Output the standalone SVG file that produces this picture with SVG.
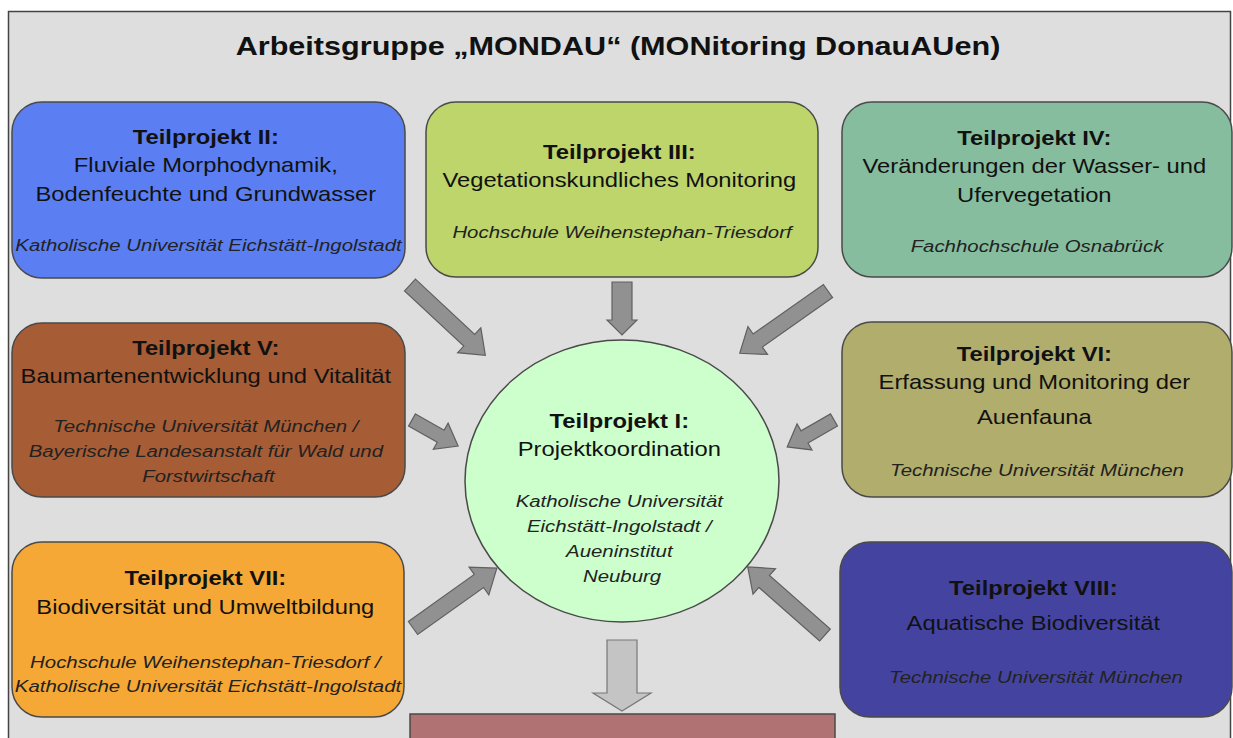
<svg xmlns="http://www.w3.org/2000/svg" width="1233" height="738" viewBox="0 0 1233 738">
<style>
text{font-family:"Liberation Sans",Arial,sans-serif;fill:#111;text-anchor:middle}
.t{font-size:25.5px;font-weight:bold}
.b{font-size:19.8px;font-weight:bold}
.r{font-size:19.8px}
.i{font-size:17px;font-style:italic;fill:#222}
.box{stroke:#4a4a4a;stroke-width:1.5}
.arr{fill:#919191;stroke:#606060;stroke-width:1.2}
</style>
<rect x="0" y="0" width="1233" height="738" fill="#ffffff"/>
<rect id="frame" x="8.5" y="11.5" width="1222" height="740" fill="#dedede" stroke="#444" stroke-width="1.5"/>
<g id="title">
<text class="t" transform="translate(618,0) scale(1.2,1)"><tspan x="0" y="55">Arbeitsgruppe „MONDAU“ (MONitoring DonauAUen)</tspan></text>
</g>
<g id="connectors">
<polygon class="arr" transform="translate(410,285) rotate(43)" points="0,-8 81,-8 81,-17 103,0 81,17 81,8 0,8"/>
<polygon class="arr" transform="translate(622,282) rotate(90)" points="0,-10 38,-10 38,-15 53,0 38,15 38,10 0,10"/>
<polygon class="arr" transform="translate(828,291) rotate(144.8)" points="0,-8 86,-8 86,-17 108,0 86,17 86,8 0,8"/>
<polygon class="arr" transform="translate(412,420) rotate(29.5)" points="0,-7 33,-7 33,-15 53,0 33,15 33,7 0,7"/>
<polygon class="arr" transform="translate(834,420) rotate(150.1)" points="0,-7 34,-7 34,-15 54,0 34,15 34,7 0,7"/>
<polygon class="arr" transform="translate(413,628) rotate(-35.5)" points="0,-8 81,-8 81,-17 103,0 81,17 81,8 0,8"/>
<polygon class="arr" transform="translate(825,635) rotate(-138.6)" points="0,-8 81,-8 81,-17 103,0 81,17 81,8 0,8"/>
<polygon points="607,640 637,640 637,693 651,693 622,711 593,693 607,693" fill="#c4c4c4" stroke="#777" stroke-width="1.2"/>
</g>
<g id="tp2">
<rect class="box" x="12" y="102" width="393" height="176" rx="30" fill="#5b7ff2"/>
<text transform="translate(208.5,0) scale(1.2,1)">
<tspan class="b" x="0" y="144">Teilprojekt II:</tspan>
<tspan class="r" x="0" y="172">Fluviale Morphodynamik,</tspan>
<tspan class="r" x="0" y="201">Bodenfeuchte und Grundwasser</tspan>
<tspan class="i" x="0" y="251">Katholische Universität Eichstätt-Ingolstadt</tspan>
</text>
</g>
<g id="tp3">
<rect class="box" x="426" y="102" width="392" height="175" rx="30" fill="#bdd56b"/>
<text transform="translate(622,0) scale(1.2,1)">
<tspan class="b" x="0" y="159">Teilprojekt III:</tspan>
<tspan class="r" x="0" y="187">Vegetationskundliches Monitoring</tspan>
<tspan class="i" x="0" y="238">Hochschule Weihenstephan-Triesdorf</tspan>
</text>
</g>
<g id="tp4">
<rect class="box" x="842" y="102" width="390" height="175" rx="30" fill="#86bd9f"/>
<text transform="translate(1037,0) scale(1.2,1)">
<tspan class="b" x="0" y="145">Teilprojekt IV:</tspan>
<tspan class="r" x="0" y="173">Veränderungen der Wasser- und</tspan>
<tspan class="r" x="0" y="202">Ufervegetation</tspan>
<tspan class="i" x="0" y="252">Fachhochschule Osnabrück</tspan>
</text>
</g>
<g id="tp5">
<rect class="box" x="12" y="323" width="393" height="174" rx="30" fill="#a65c35"/>
<text transform="translate(208.5,0) scale(1.2,1)">
<tspan class="b" x="0" y="355">Teilprojekt V:</tspan>
<tspan class="r" x="0" y="383">Baumartenentwicklung und Vitalität</tspan>
<tspan class="i" x="0" y="432">Technische Universität München /</tspan>
<tspan class="i" x="0" y="457">Bayerische Landesanstalt für Wald und</tspan>
<tspan class="i" x="0" y="482">Forstwirtschaft</tspan>
</text>
</g>
<g id="tp6">
<rect class="box" x="842" y="322" width="390" height="175" rx="30" fill="#b1ad6c"/>
<text transform="translate(1037,0) scale(1.2,1)">
<tspan class="b" x="0" y="361">Teilprojekt VI:</tspan>
<tspan class="r" x="0" y="389">Erfassung und Monitoring der</tspan>
<tspan class="r" x="0" y="424">Auenfauna</tspan>
<tspan class="i" x="0" y="476">Technische Universität München</tspan>
</text>
</g>
<g id="tp7">
<rect class="box" x="12" y="542" width="392" height="175" rx="30" fill="#f6a836"/>
<text transform="translate(208,0) scale(1.2,1)">
<tspan class="b" x="0" y="585">Teilprojekt VII:</tspan>
<tspan class="r" x="0" y="614">Biodiversität und Umweltbildung</tspan>
<tspan class="i" x="0" y="668">Hochschule Weihenstephan-Triesdorf /</tspan>
<tspan class="i" x="0" y="692">Katholische Universität Eichstätt-Ingolstadt</tspan>
</text>
</g>
<g id="tp8">
<rect class="box" x="840" y="542" width="392" height="175" rx="30" fill="#4444a0"/>
<text transform="translate(1036,0) scale(1.2,1)">
<tspan class="b" x="0" y="595">Teilprojekt VIII:</tspan>
<tspan class="r" x="0" y="630">Aquatische Biodiversität</tspan>
<tspan class="i" x="0" y="683">Technische Universität München</tspan>
</text>
</g>
<g id="tp1">
<ellipse class="box" cx="622" cy="481" rx="157" ry="141" fill="#ccffcc"/>
<text transform="translate(622,0) scale(1.2,1)">
<tspan class="b" x="0" y="428">Teilprojekt I:</tspan>
<tspan class="r" x="0" y="456">Projektkoordination</tspan>
<tspan class="i" x="0" y="507">Katholische Universität</tspan>
<tspan class="i" x="0" y="532">Eichstätt-Ingolstadt /</tspan>
<tspan class="i" x="0" y="557">Aueninstitut</tspan>
<tspan class="i" x="0" y="582">Neuburg</tspan>
</text>
</g>
<g id="result">
<rect class="box" x="410" y="714" width="425" height="40" fill="#b07272"/>
</g>
</svg>
